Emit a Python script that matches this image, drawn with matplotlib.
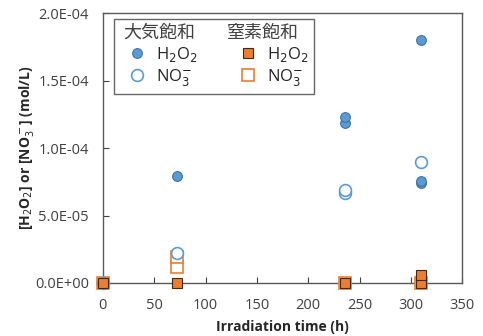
import matplotlib.pyplot as plt
from matplotlib.lines import Line2D
from matplotlib.ticker import FuncFormatter
import numpy as np

plt.rcParams['font.family'] = ['Open Sans', 'Noto Sans CJK JP', 'DejaVu Sans']

# air-saturated (大気飽和)
air_h2o2_t = [0, 72, 236, 236, 310, 310, 310]
air_h2o2 = [0, 7.95e-5, 1.19e-4, 1.23e-4, 1.805e-4, 7.45e-5, 7.55e-5]
air_no3_t = [0, 72, 236, 236, 310]
air_no3 = [0, 2.2e-5, 6.7e-5, 6.9e-5, 9.0e-5]

# nitrogen-saturated (窒素飽和)
n2_h2o2_t = [0, 72, 236, 310, 310]
n2_h2o2 = [0, 0, 0, 0, 6e-6]
n2_no3_t = [0, 72, 72, 236, 310]
n2_no3 = [0, 1.2e-5, 1.95e-5, 0, 0]

headers = ['大気飽和', '窒素飽和']

blue = '#5B9BD5'
blue_edge = '#41719C'
orange = '#ED7D31'
sq_edge = '#3a2a1a'

fig = plt.figure(figsize=(4.83, 3.36), dpi=100)
ax = fig.add_axes([0.213, 0.158, 0.744, 0.802])

ax.plot(n2_no3_t, n2_no3, 's', ms=8.5, mfc='white', mec=orange, mew=1.2, ls='none', zorder=3, clip_on=False)
ax.plot(air_no3_t, air_no3, 'o', ms=8.5, mfc='white', mec=blue, mew=1.2, ls='none', zorder=3, clip_on=False)
ax.plot(air_h2o2_t, air_h2o2, 'o', ms=7, mfc=blue, mec=blue_edge, mew=0.8, ls='none', zorder=4, clip_on=False)
ax.plot(n2_h2o2_t, n2_h2o2, 's', ms=7, mfc=orange, mec=sq_edge, mew=0.8, ls='none', zorder=5, clip_on=False)

ax.set_xlim(0, 350)
ax.set_ylim(0, 2.0e-4)
ax.set_xticks(np.arange(0, 351, 50))
ax.set_yticks(np.arange(0, 2.01e-4, 5e-5))
ax.yaxis.set_major_formatter(FuncFormatter(lambda v, p: '%.1E' % v))
ax.tick_params(axis='x', direction='in', labelsize=10.5, colors='#404040', length=4, pad=11)
ax.tick_params(axis='y', direction='in', labelsize=10.5, colors='#404040', length=4, pad=10)
for s in ax.spines.values():
    s.set_color('#595959')
    s.set_linewidth(1.0)

ax.set_xlabel('Irradiation time (h)', fontsize=10, fontweight='bold', color='#262626', labelpad=5)
ax.set_ylabel('[H$_2$O$_2$] or [NO$_3^-$] (mol/L)', fontsize=10, fontweight='bold', color='#262626', labelpad=-0.5)

# legend: blank top row, headers drawn on top of it
blank = Line2D([], [], ls='none', marker='')
h1 = Line2D([], [], ls='none', marker='o', ms=7, mfc=blue, mec=blue_edge, mew=0.8)
h2 = Line2D([], [], ls='none', marker='o', ms=8.5, mfc='white', mec=blue, mew=1.2)
h3 = Line2D([], [], ls='none', marker='s', ms=7, mfc=orange, mec=sq_edge, mew=0.8)
h4 = Line2D([], [], ls='none', marker='s', ms=8.5, mfc='white', mec=orange, mew=1.2)
handles = [blank, h1, h2, blank, h3, h4]
labels = [' ', 'H$_2$O$_2$', 'NO$_3^{-}$', ' ', 'H$_2$O$_2$', 'NO$_3^{-}$']
leg = ax.legend(handles, labels, ncol=2, loc='upper left', bbox_to_anchor=(0.031, 0.978),
                borderaxespad=0, fontsize=12, frameon=True, fancybox=False, edgecolor='#404040',
                handlelength=2.1, handletextpad=0.05, columnspacing=2.0,
                labelspacing=0.2, borderpad=0.35)
leg.get_frame().set_linewidth(1.0)
for t in leg.get_texts():
    t.set_color('#262626')

for lab, dx in zip(headers, [6.5, 81]):
    ax.annotate(lab, xy=(0, 1), xycoords=leg, xytext=(dx, -9.5), textcoords='offset points',
                ha='left', va='center', fontsize=13, color='#404040',
                family=['Noto Sans CJK JP', 'DejaVu Sans'], zorder=10)

fig.savefig('out.png', dpi=100)
